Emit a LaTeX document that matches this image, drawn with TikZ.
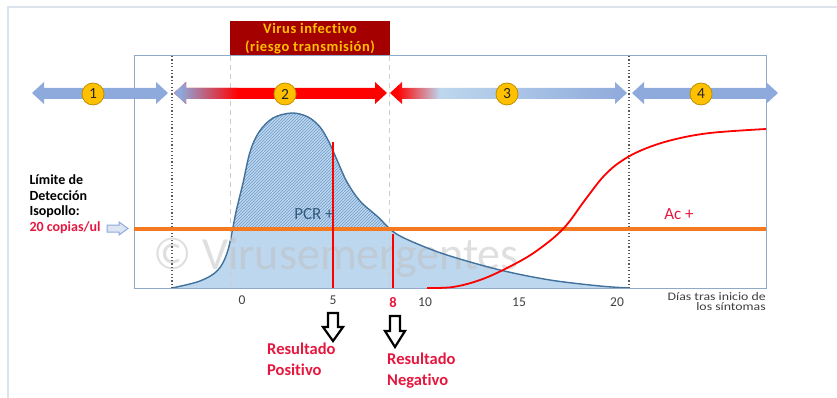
\documentclass[tikz,border=0pt]{standalone}
\usepackage{fontspec}
\setmainfont[Ligatures=NoCommon]{Carlito}
\newfontfamily\spacedfont[LetterSpace=4,Ligatures=NoCommon]{Carlito}
\usetikzlibrary{patterns}
\definecolor{arrowblue}{HTML}{8EA9DB}
\definecolor{lightfill}{HTML}{BDD7EE}
\definecolor{outlineblue}{HTML}{41719C}
\definecolor{hatchblue}{HTML}{6F9BCB}
\definecolor{orangeline}{HTML}{F47920}
\definecolor{txtred}{HTML}{E5173F}
\definecolor{boxred}{HTML}{A50000}
\definecolor{gold}{HTML}{FFC000}
\definecolor{goldborder}{HTML}{BF9000}
\definecolor{framegray}{HTML}{DCE3EA}
\definecolor{axisgray}{HTML}{404040}
\definecolor{plotframe}{HTML}{8FAAC8}
\tikzset{
  numcircle/.style={circle, fill=gold, draw=goldborder, line width=0.8pt, minimum size=22pt, inner sep=0pt, font=\fontsize{15.5}{15.5}\selectfont, text=black!85},
  ticklabel/.style={font=\fontsize{13.5}{13.5}\selectfont, text=axisgray},
  redtext/.style={font=\bfseries\fontsize{16.5}{20.5}\selectfont, text=txtred, align=left, anchor=north west},
  lefttext/.style={font=\bfseries\fontsize{14}{16}\selectfont, anchor=west},
  downarrow/.style={draw=black, line width=2.2pt, fill=white, line join=miter},
  dotline/.style={draw=gray!70!black, line width=1.2pt, dash pattern=on 1.2pt off 2.2pt},
  dashline/.style={draw=gray!40, line width=1pt, dash pattern=on 5pt off 4pt},
}
\begin{document}
\begin{tikzpicture}[x=1pt,y=-1pt]
\useasboundingbox (0,0) rectangle (837,398);
% outer frame lines
\draw[framegray, line width=1.2pt] (8,398) -- (8,7) -- (837,7);
% red box
\node[fill=boxred, minimum width=160pt, minimum height=35pt, inner sep=0pt, align=center,
  font=\spacedfont\bfseries\fontsize{14.5}{18}\selectfont, text=gold] (virbox) at (310,38.5) {Virus infectivo\\(riesgo transmisión)};
% curve fill
\def\pcrcurve{plot[smooth, tension=0.55] coordinates {(172,288) (200,281) (218,270) (228,250) (236,212) (243,183) (250,152) (259,132) (273,118) (292,113) (308,117) (320,127) (329,142) (337,160) (347,182) (360,201) (378,217) (395,233) (420,245) (450,256) (500,270) (550,280) (600,286) (629,288)}}
\fill[lightfill] \pcrcurve -- cycle;
\begin{scope}
  \clip (134,56) rectangle (766,229);
  \fill[pattern=north east lines, pattern color=hatchblue] \pcrcurve -- cycle;
\end{scope}
% watermark
\node[font=\fontsize{46}{46}\selectfont, text=gray!50, opacity=0.5, anchor=west] (wm) at (150,258) {© Virusemergentes};
% curve outline
\draw[outlineblue, line width=1.4pt] \pcrcurve;
% dashed light lines
\coordinate (d1t) at (230,56); \coordinate (d1b) at (230,288);
\coordinate (d2t) at (389,56); \coordinate (d2b) at (389,288);
\draw[dashline] (d1t) -- (d1b);
\draw[dashline] (d2t) -- (d2b);
% plot frame
\draw[plotframe, line width=1pt] (134,56) rectangle (766,288);
% dotted lines
\coordinate (p1t) at (172,56); \coordinate (p1b) at (172,288);
\coordinate (p2t) at (629,56); \coordinate (p2b) at (629,288);
\draw[dotline] (p1t) -- (p1b);
\draw[dotline] (p2t) -- (p2b);
% orange line
\coordinate (ol) at (134,229); \coordinate (or) at (766,229);
\draw[orangeline, line width=3.4pt] (ol) -- (or);
% red vertical lines
\coordinate (r5t) at (333,142); \coordinate (r5b) at (333,288);
\coordinate (r8t) at (393,234); \coordinate (r8b) at (393,288);
\draw[red, line width=2.8pt] (r5t) -- (r5b);
\draw[red, line width=2.8pt] (r8t) -- (r8b);
% antibody curve
\draw[red, line width=1.8pt] plot[smooth, tension=0.6] coordinates {(427,288) (453,287) (480,280) (507,268) (535,252) (563,229) (585,200) (603,177) (620,162) (642,150) (672,140) (710,133) (766,129)};
% arrow 1
\fill[arrowblue] (32,93)--(44,82)--(44,88)--(156,88)--(156,82)--(168,93)--(156,104)--(156,99)--(44,99)--(44,104)--cycle;
% arrow 2
\begin{scope}
  \clip (174,93)--(186,82)--(186,88)--(375,88)--(375,82)--(387,93)--(375,104)--(375,99)--(186,99)--(186,104)--cycle;
  \fill[red] (174,80) rectangle (390,106);
  \fill[arrowblue] (174,80) rectangle (181,106);
  \shade[left color=arrowblue, right color=red] (180,80) rectangle (238,106);
\end{scope}
% arrow 3
\begin{scope}
  \clip (390,93)--(402,82)--(402,88)--(615,88)--(615,82)--(627,93)--(615,104)--(615,99)--(402,99)--(402,104)--cycle;
  \fill[red] (388,80) rectangle (398,106);
  \shade[left color=red, right color=lightfill] (397,80) rectangle (440,106);
  \shade[left color=lightfill, right color=arrowblue] (439,80) rectangle (630,106);
\end{scope}
% arrow 4
\fill[arrowblue] (632,93)--(644,82)--(644,88)--(766,88)--(766,82)--(778,93)--(766,104)--(766,99)--(644,99)--(644,104)--cycle;
% number circles
\node[numcircle] (n1) at (93,94) {1};
\node[numcircle] (n2) at (285,94) {2};
\node[numcircle] (n3) at (507,94) {3};
\node[numcircle] (n4) at (701,94) {4};
% small left arrow
\draw[arrowblue, fill=arrowblue!30, line width=1pt] (107,225)--(119,225)--(119,222)--(128,228.5)--(119,235)--(119,232)--(107,232)--cycle;
% left texts
\node[lefttext] (t1) at (26,180) {Límite de};
\node[lefttext] (t2) at (26,196) {Detección};
\node[lefttext] (t3) at (26,212) {Isopollo:};
\node[lefttext, text=txtred] (t4) at (26,228) {20 copias/ul};
% PCR and Ac
\node[font=\fontsize{17}{17}\selectfont, text=outlineblue!80!black] (pcr) at (314,214) {PCR +};
\node[font=\fontsize{17}{17}\selectfont, text=txtred] (ac) at (679,214) {Ac +};
% tick labels
\node[ticklabel] (x0) at (242,300) {0};
\node[ticklabel] (x5) at (333,300) {5};
\node[ticklabel, font=\bfseries\fontsize{14.5}{14.5}\selectfont, text=txtred] (x8) at (393,303) {8};
\node[ticklabel] (x10) at (425,302) {10};
\node[ticklabel] (x15) at (519,302) {15};
\node[ticklabel] (x20) at (617,302) {20};
\node[font=\fontsize{11.5}{10.5}\selectfont, text=axisgray, align=right, anchor=north east, inner sep=0pt, xscale=1.2] (dias) at (766,292) {Días tras inicio de\\los síntomas};
% down arrows
\draw[downarrow] (328,313)--(338,313)--(338,327)--(343,327)--(333,341)--(323,327)--(328,327)--cycle;
\draw[downarrow] (390,316)--(400,316)--(400,331)--(405,331)--(395,347)--(385,331)--(390,331)--cycle;
% result texts
\node[redtext, inner sep=0pt] (pos) at (267,343) {Resultado\\Positivo};
\node[redtext, inner sep=0pt] (neg) at (387,353) {Resultado\\Negativo};
\end{tikzpicture}
\end{document}
